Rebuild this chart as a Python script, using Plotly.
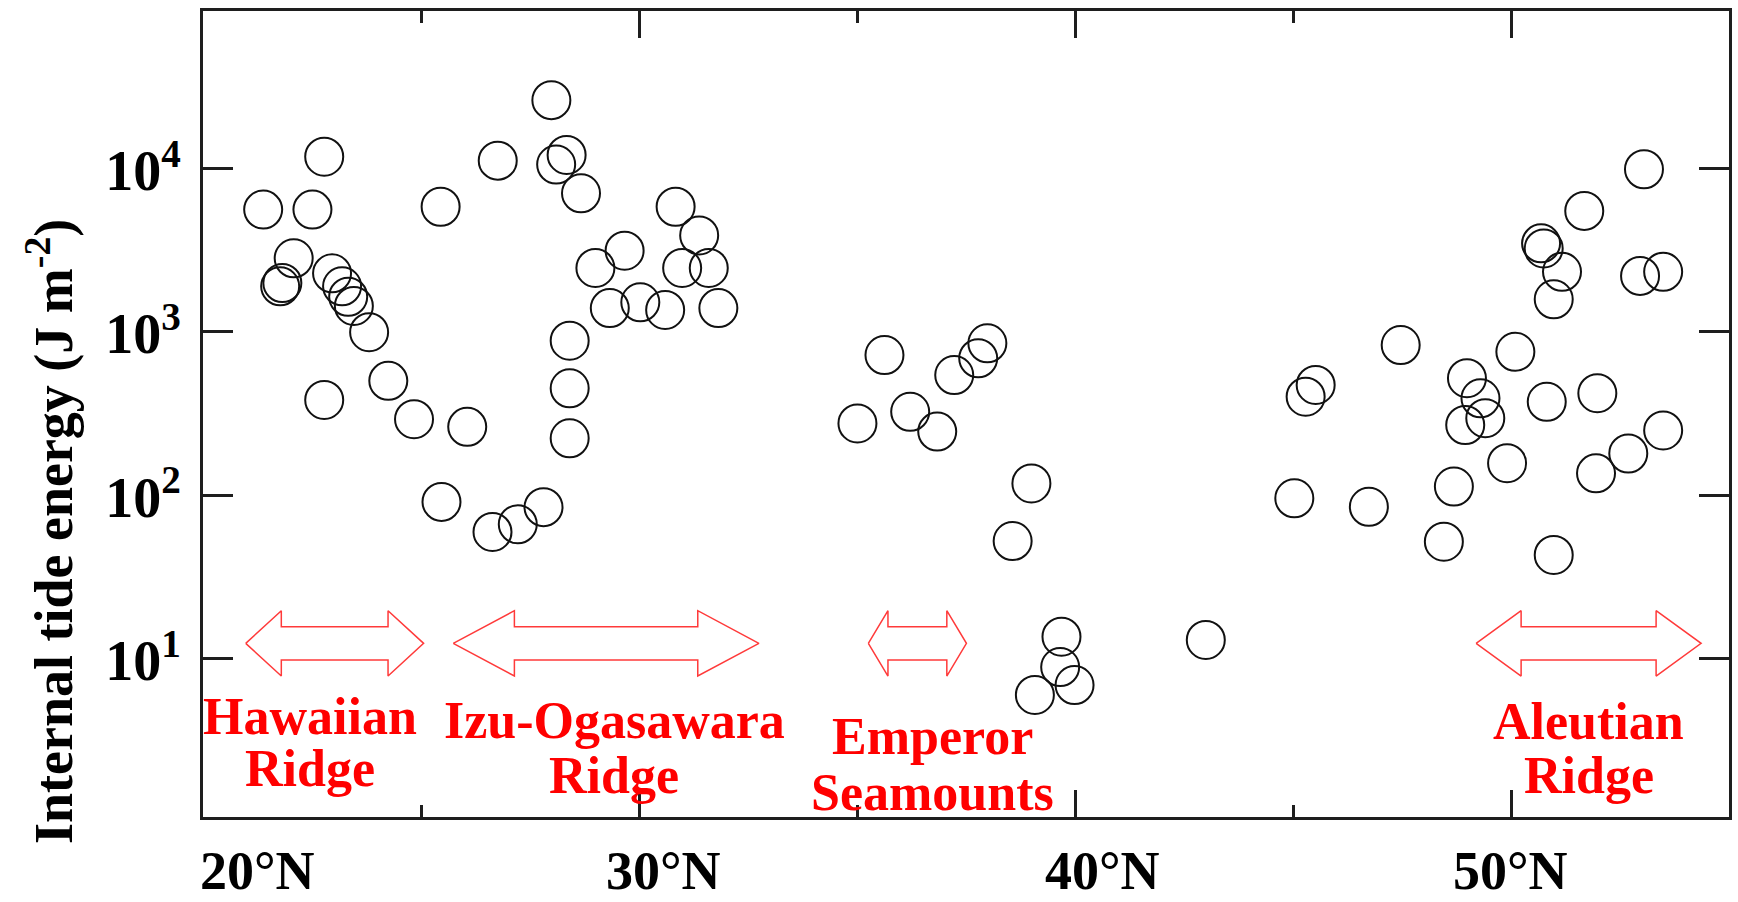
import plotly.graph_objects as go

# Internal tide energy (J m^-2) at sites along the ridges, by latitude (deg N)
lat_hawaii = [21.38, 22.51, 22.78, 22.08, 21.77, 21.82, 22.96, 23.19, 23.33, 23.46, 23.81, 24.25, 24.84, 22.78]
energy_hawaii = [5600, 5600, 11800, 2820, 1900, 1990, 2280, 1900, 1640, 1440, 995, 501, 292, 383]

lat_izu = [25.45, 26.06, 25.47, 26.76, 27.99, 28.34, 28.10, 28.67, 28.41, 28.41, 28.41, 27.81,
           27.22, 26.64, 29.00, 29.67, 29.33, 30.03, 30.60, 30.84, 31.38, 30.99, 31.60, 31.82]
energy_izu = [5830, 262, 91, 11170, 26200, 12100, 10570, 7050, 883, 451, 223, 84.5,
              66.4, 59.6, 2460, 3140, 1397, 1517, 1361, 5830, 3890, 2460, 2460, 1397]

lat_emperor = [35.63, 35.01, 36.22, 36.84, 37.23, 37.78, 37.99, 39.00, 38.57, 39.69, 39.66, 39.08, 39.99, 43.00]
energy_emperor = [721, 275, 324, 245, 544, 689, 851, 118, 52.4, 13.6, 8.87, 5.99, 6.88, 13.0]

lat_aleutian = [53.05, 51.68, 50.69, 50.75, 51.17, 50.98, 52.96, 53.49, 47.47, 50.10, 45.52, 45.29, 48.99, 49.30,
                48.95, 49.41, 50.82, 51.98, 49.91, 48.69, 45.03, 46.74, 48.46, 50.98, 53.49, 52.69, 51.95]
energy_aleutian = [9890, 5500, 3480, 3240, 2330, 1582, 2200, 2330, 830, 755, 473, 401, 520, 392,
                   269, 296, 373, 421, 157, 113, 95.7, 84.9, 51.9, 43.1, 249, 180, 136]

# Latitude extent of each ridge system and its label lines
region_names = [["Hawaiian", "Ridge"], ["Izu-Ogasawara", "Ridge"], ["Emperor", "Seamounts"], ["Aleutian", "Ridge"]]
region_start = [20.98, 25.74, 35.26, 49.20]
region_end = [25.06, 32.75, 37.51, 54.36]

# Axis tick labels
x_tick_text = ["20°N", "30°N", "40°N", "50°N"]
y_tick_vals = [10, 100, 1000, 10000]
y_tick_text = ["10<sup>1</sup>", "10<sup>2</sup>", "10<sup>3</sup>", "10<sup>4</sup>"]

SERIF = "Liberation Serif, Times New Roman, serif"
AXIS_COLOR = "#1e1e1e"
RED = "#ff0000"

fig = go.Figure()

# Double-headed block arrows spanning each ridge (log-decade geometry on the y axis)
arrow_mid, head_half, shaft_half = 1.093, 0.200, 0.102
for x0, x1 in zip(region_start, region_end):
    h = 0.2 * (x1 - x0)
    xs = [x0, x0 + h, x0 + h, x1 - h, x1 - h, x1, x1 - h, x1 - h, x0 + h, x0 + h, x0]
    ly = [arrow_mid, arrow_mid + head_half, arrow_mid + shaft_half, arrow_mid + shaft_half,
          arrow_mid + head_half, arrow_mid, arrow_mid - head_half, arrow_mid - shaft_half,
          arrow_mid - shaft_half, arrow_mid - head_half, arrow_mid]
    fig.add_trace(go.Scatter(
        x=xs, y=[10 ** v for v in ly], mode="lines",
        line=dict(color="#ff3a3a", width=1.5), fill="toself", fillcolor="white",
        hoverinfo="skip", showlegend=False,
    ))

all_lat = lat_hawaii + lat_izu + lat_emperor + lat_aleutian
all_energy = energy_hawaii + energy_izu + energy_emperor + energy_aleutian
fig.add_trace(go.Scatter(
    x=all_lat, y=all_energy, mode="markers",
    marker=dict(symbol="circle-open", size=38, color="#111111", line=dict(width=2, color="#111111")),
    showlegend=False,
))

annotations = []
# Ridge names under the arrows
line_y_px = [(716, 768), (720, 775), (736, 792), (721, 775)]
label_shift = [-25, 8, 15, 0]
plot_bottom, plot_h = 817, 806
for names, x0, x1, (y1, y2), dx in zip(region_names, region_start, region_end, line_y_px, label_shift):
    for name, ypx in zip(names, (y1, y2)):
        annotations.append(dict(
            x=(x0 + x1) / 2, xref="x", y=(plot_bottom - ypx) / plot_h, yref="paper",
            text=name, showarrow=False, xanchor="center", yanchor="middle", xshift=dx,
            font=dict(family=SERIF, size=52, color=RED, weight="bold"),
        ))

# Latitude labels below the axis
x_label_pos = [21.25, 30.57, 40.62, 49.99]
for xv, txt in zip(x_label_pos, x_tick_text):
    annotations.append(dict(
        x=xv, xref="x", y=(plot_bottom - 871) / plot_h, yref="paper",
        text=txt, showarrow=False, xanchor="center", yanchor="middle",
        font=dict(family=SERIF, size=54, color="black", weight="bold"),
    ))

# Y-axis title
annotations.append(dict(
    x=-0.1, xref="paper", y=0.354, yref="paper",
    text="Internal tide energy (J m<sup>-2</sup>)", textangle=-90, showarrow=False,
    xanchor="center", yanchor="middle",
    font=dict(family=SERIF, size=54, color="black", weight="bold"),
))

fig.update_layout(
    width=1738, height=902,
    margin=dict(l=203, r=6, t=11, b=85),
    paper_bgcolor="white", plot_bgcolor="white",
    annotations=annotations,
    xaxis=dict(
        range=[20, 55], showgrid=False, zeroline=False,
        showline=True, linewidth=3, linecolor=AXIS_COLOR, mirror="ticks",
        ticks="inside", tickvals=[20, 30, 40, 50], ticklen=27, tickwidth=3, tickcolor=AXIS_COLOR,
        showticklabels=False,
        minor=dict(tickvals=[25, 35, 45], ticks="inside", ticklen=12, tickwidth=3, tickcolor=AXIS_COLOR),
    ),
    yaxis=dict(
        type="log", range=[0.03, 4.964], showgrid=False, zeroline=False,
        showline=True, linewidth=3, linecolor=AXIS_COLOR, mirror="ticks",
        ticks="inside", tickvals=y_tick_vals, ticktext=y_tick_text,
        ticklen=30, tickwidth=3, tickcolor=AXIS_COLOR,
        tickfont=dict(family=SERIF, size=56, color="black", weight="bold"),
        ticklabelstandoff=8, ticklabelshift=2,
    ),
)

fig.write_html("out.html")
